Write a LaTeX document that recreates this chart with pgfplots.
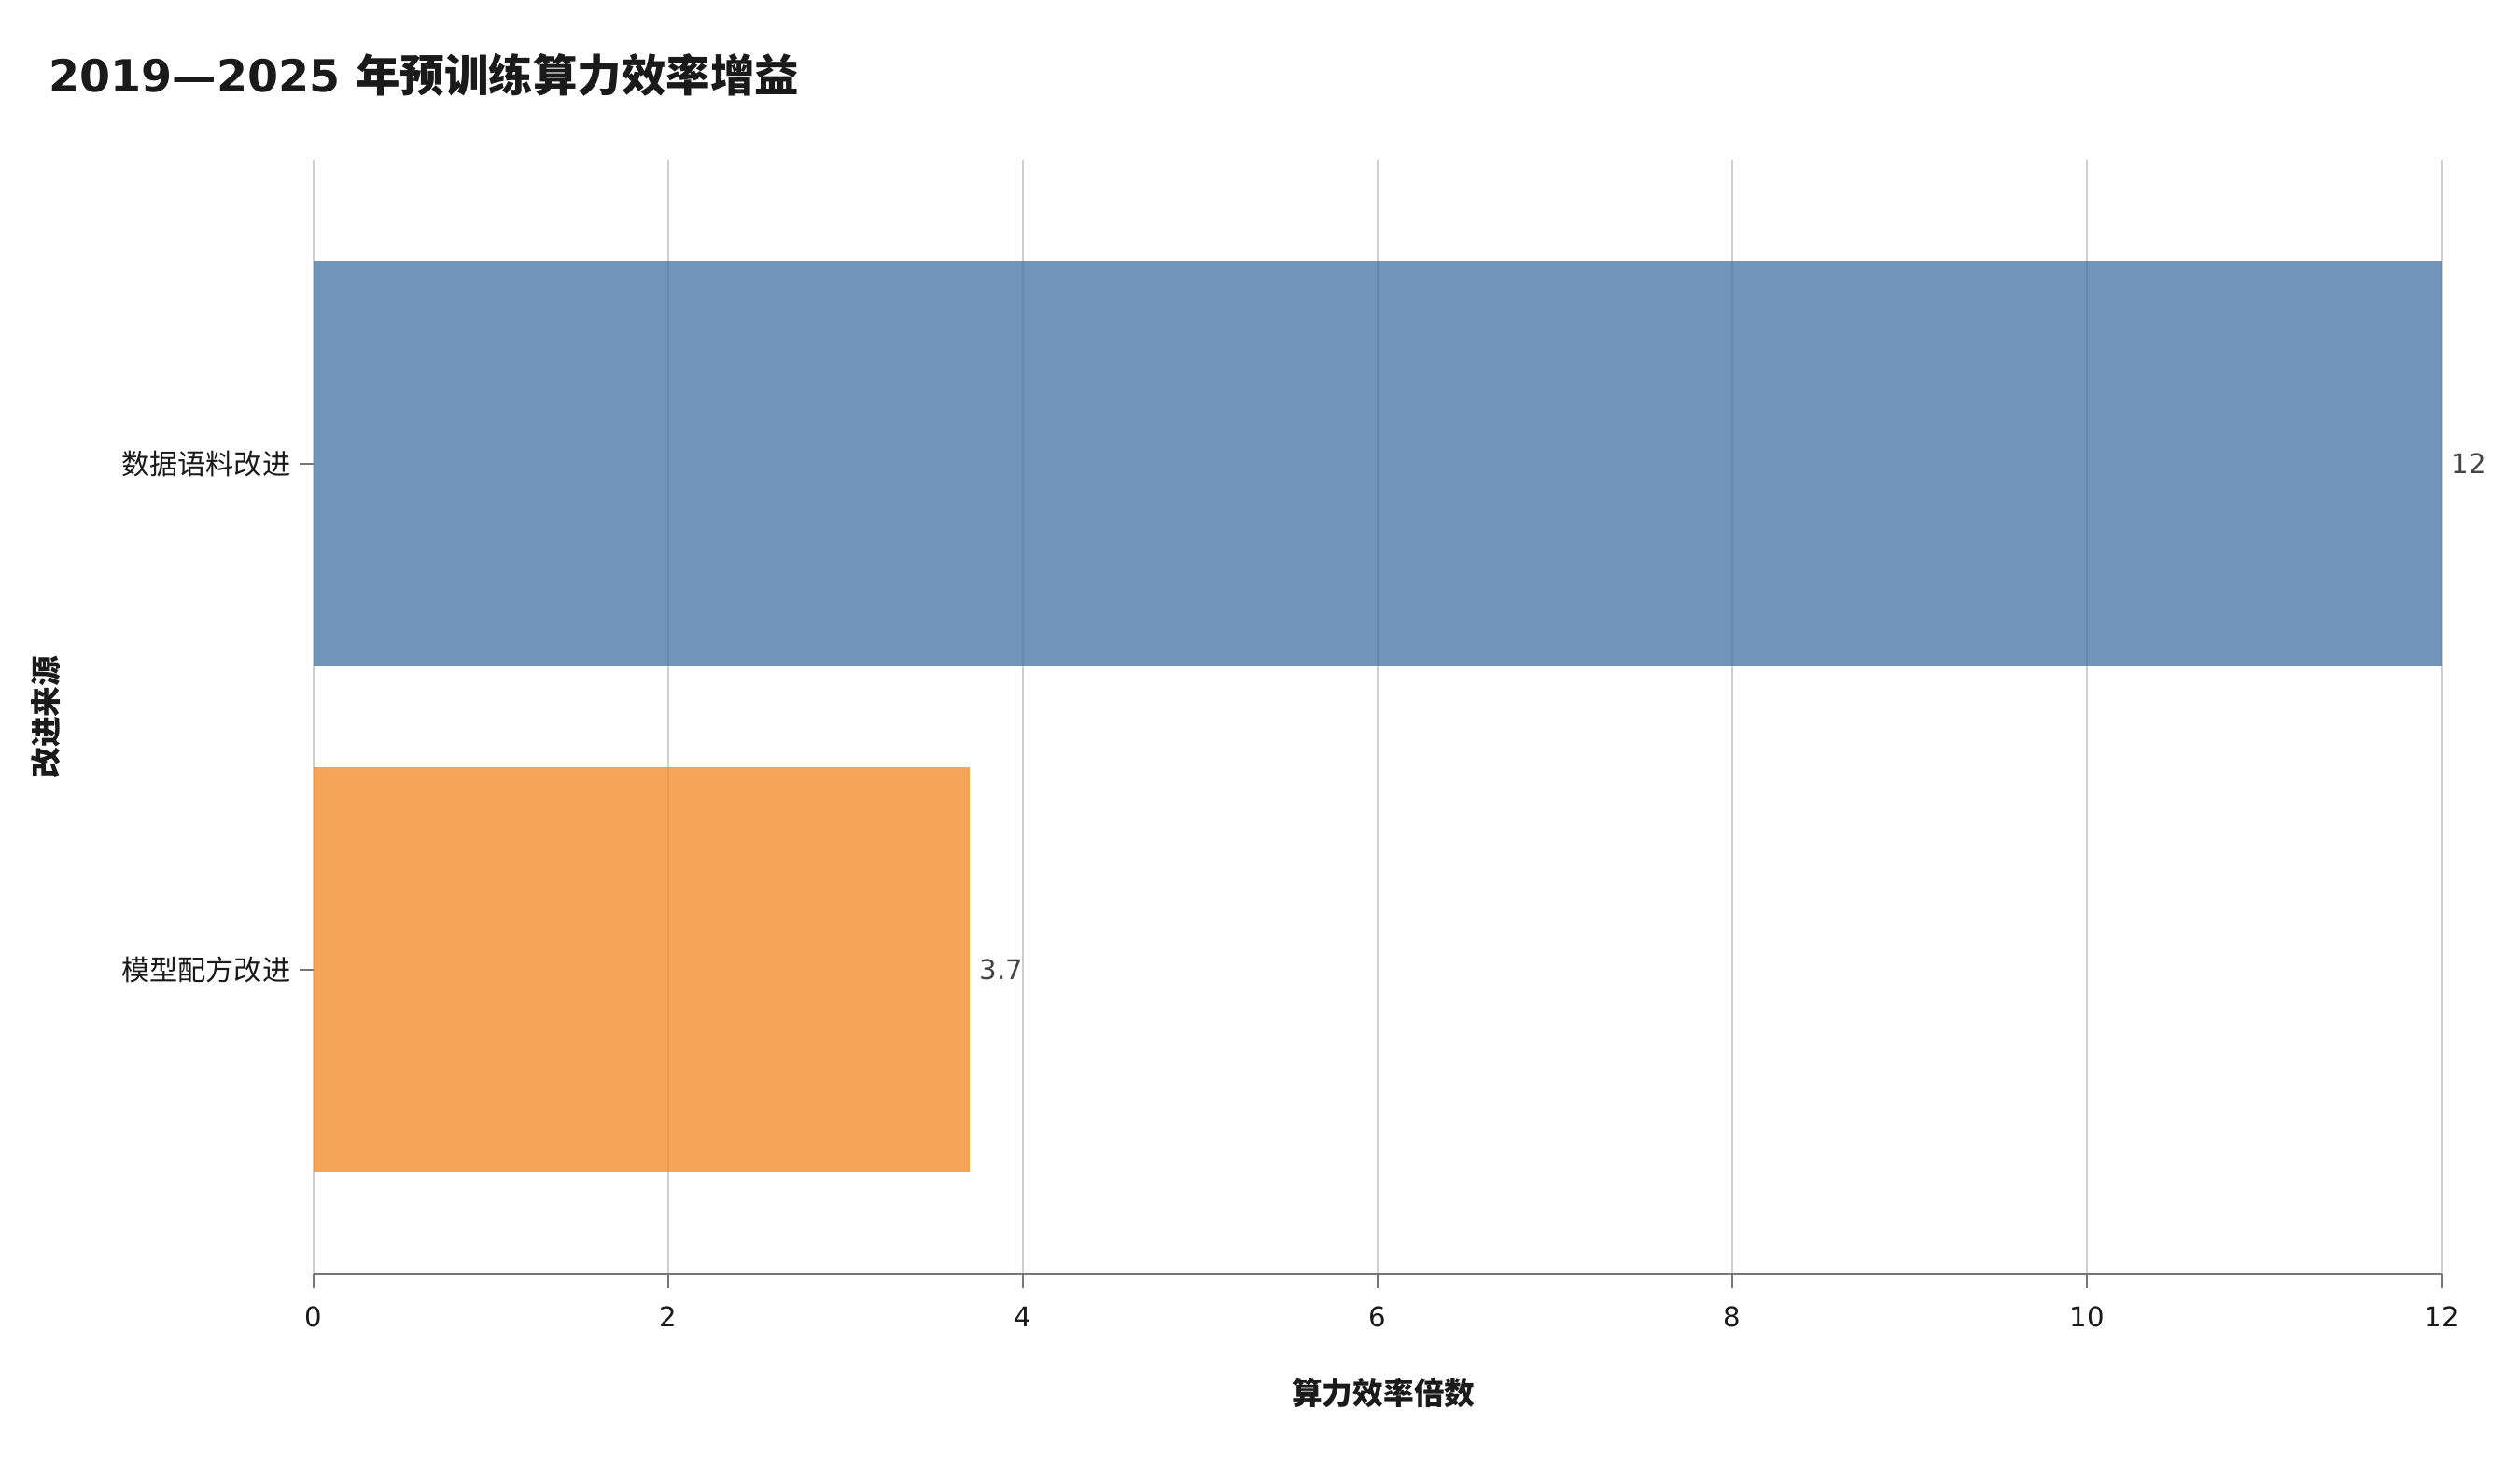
\documentclass[border=0pt]{standalone}
\usepackage{pgfplots}
\pgfplotsset{compat=1.18}
\usepackage{fontspec}
\setmainfont{DejaVu Sans}
\newfontfamily\cjk{Noto Sans CJK SC}
\definecolor{barblue}{HTML}{4E79A7}
\definecolor{barorange}{HTML}{F28E2B}
\definecolor{gridgray}{HTML}{CFCFCF}
\definecolor{axgray}{HTML}{777777}
\definecolor{valgray}{HTML}{444444}
\definecolor{txt}{HTML}{1A1A1A}
\begin{document}
\begin{tikzpicture}
\begin{axis}[
  name=ax,
  scale only axis, width=1094.4pt, height=573.1pt,
  xbar, bar width=0.8, bar shift=0pt,
  xmin=0, xmax=12, ymin=-0.6, ymax=1.6,
  xtick={0,2,4,6,8,10,12}, ytick={0,1},
  yticklabels={{\cjk 模型配方改进},{\cjk 数据语料改进}},
  axis x line=bottom, axis y line=left,
  x axis line style={axgray, line width=1.3pt, -},
  y axis line style={draw=none},
  tick align=outside, major tick length=7pt,
  tick style={axgray, line width=0.9pt},
  xmajorgrids, grid style={gridgray, line width=1pt},
  /pgf/number format/assume math mode=true,
  ticklabel style={font=\fontsize{14}{16}\selectfont, color=txt},
  xticklabel style={yshift=-6.2pt},
  yticklabel style={xshift=-1.3pt, font=\fontsize{14.5}{16}\selectfont},
  xlabel={\cjk\bfseries 算力效率倍数},
  ylabel={\cjk\bfseries 改进来源},
  label style={font=\fontsize{15.7}{18}\selectfont, color=txt},
  xlabel style={at={(axis description cs:0.5,-0.1064)}, anchor=center, xshift=3pt},
  ylabel style={at={(axis description cs:-0.1259,0.5)}, anchor=center},
  clip=false,
  nodes near coords, nodes near coords align={horizontal},
  every node near coord/.append style={font=\fontsize{14}{16}\selectfont, color=valgray, text opacity=1, anchor=west, inner sep=0pt, xshift=4.8pt},
]
\addplot[fill=barblue, fill opacity=0.8, draw=none] coordinates {(12,1)};
\addplot[fill=barorange, fill opacity=0.8, draw=none] coordinates {(3.7,0)};
\end{axis}
\node[anchor=base west, font=\fontsize{22.8}{27}\selectfont\bfseries, color=txt, inner sep=0pt]
  at ([xshift=-136.2pt, yshift=34.6pt]ax.north west) {2019—2025 {\cjk 年预训练算力效率增益}};
\path ([xshift=-161.3pt, yshift=-93.6pt]ax.south west) rectangle ([xshift=40.3pt, yshift=82.1pt]ax.north east);
\end{tikzpicture}
\end{document}
